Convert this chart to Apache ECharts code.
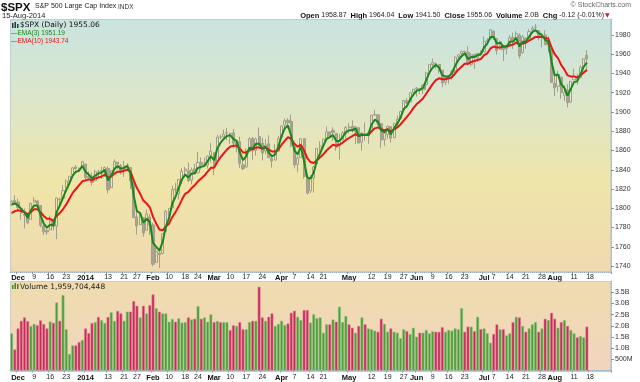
<!DOCTYPE html>
<html><head><meta charset="utf-8">
<script src="https://cdn.jsdelivr.net/npm/echarts@6/dist/echarts.min.js"></script>
<style>html,body{margin:0;padding:0;background:#fff}#c{width:640px;height:382px}</style>
</head><body><div id="c"></div>
<script>
// ---- categories (trading days, plus empty future slots) ----
const dates=["2013-11-27","2013-11-29",
"2013-12-02","2013-12-03","2013-12-04","2013-12-05","2013-12-06","2013-12-09","2013-12-10","2013-12-11","2013-12-12","2013-12-13","2013-12-16","2013-12-17","2013-12-18","2013-12-19","2013-12-20","2013-12-23","2013-12-24","2013-12-26","2013-12-27","2013-12-30","2013-12-31",
"2014-01-02","2014-01-03","2014-01-06","2014-01-07","2014-01-08","2014-01-09","2014-01-10","2014-01-13","2014-01-14","2014-01-15","2014-01-16","2014-01-17","2014-01-21","2014-01-22","2014-01-23","2014-01-24","2014-01-27","2014-01-28","2014-01-29","2014-01-30","2014-01-31",
"2014-02-03","2014-02-04","2014-02-05","2014-02-06","2014-02-07","2014-02-10","2014-02-11","2014-02-12","2014-02-13","2014-02-14","2014-02-18","2014-02-19","2014-02-20","2014-02-21","2014-02-24","2014-02-25","2014-02-26","2014-02-27","2014-02-28",
"2014-03-03","2014-03-04","2014-03-05","2014-03-06","2014-03-07","2014-03-10","2014-03-11","2014-03-12","2014-03-13","2014-03-14","2014-03-17","2014-03-18","2014-03-19","2014-03-20","2014-03-21","2014-03-24","2014-03-25","2014-03-26","2014-03-27","2014-03-28","2014-03-31",
"2014-04-01","2014-04-02","2014-04-03","2014-04-04","2014-04-07","2014-04-08","2014-04-09","2014-04-10","2014-04-11","2014-04-14","2014-04-15","2014-04-16","2014-04-17","2014-04-21","2014-04-22","2014-04-23","2014-04-24","2014-04-25","2014-04-28","2014-04-29","2014-04-30",
"2014-05-01","2014-05-02","2014-05-05","2014-05-06","2014-05-07","2014-05-08","2014-05-09","2014-05-12","2014-05-13","2014-05-14","2014-05-15","2014-05-16","2014-05-19","2014-05-20","2014-05-21","2014-05-22","2014-05-23","2014-05-27","2014-05-28","2014-05-29","2014-05-30",
"2014-06-02","2014-06-03","2014-06-04","2014-06-05","2014-06-06","2014-06-09","2014-06-10","2014-06-11","2014-06-12","2014-06-13","2014-06-16","2014-06-17","2014-06-18","2014-06-19","2014-06-20","2014-06-23","2014-06-24","2014-06-25","2014-06-26","2014-06-27","2014-06-30",
"2014-07-01","2014-07-02","2014-07-03","2014-07-07","2014-07-08","2014-07-09","2014-07-10","2014-07-11","2014-07-14","2014-07-15","2014-07-16","2014-07-17","2014-07-18","2014-07-21","2014-07-22","2014-07-23","2014-07-24","2014-07-25","2014-07-28","2014-07-29","2014-07-30","2014-07-31",
"2014-08-01","2014-08-04","2014-08-05","2014-08-06","2014-08-07","2014-08-08","2014-08-11","2014-08-12","2014-08-13","2014-08-14","2014-08-15",
"2014-08-18","2014-08-19","2014-08-20","2014-08-21","2014-08-22","2014-08-25","2014-08-26"];

// ---- OHLC ----
const opens=[1803.5,1808.0,
1806.5,1800.1,1793.6,1792.8,1788.4,1806.2,1807.6,1802.8,1781.7,1777.0,1777.5,1786.5,1781.5,1809.0,1810.4,1820.9,1828.0,1834.9,1842.9,1841.5,1842.6,
1845.9,1833.2,1832.3,1828.7,1837.9,1839.0,1840.1,1841.3,1821.4,1840.5,1848.0,1844.2,1841.1,1844.7,1842.3,1827.0,1791.0,1783.0,1790.2,1777.2,1790.9,
1782.7,1743.8,1753.4,1753.0,1776.0,1796.2,1800.5,1820.1,1814.8,1828.5,1839.0,1838.9,1829.2,1841.1,1836.8,1847.7,1845.8,1844.9,1855.1,
1857.7,1849.2,1874.1,1874.2,1878.5,1877.9,1878.3,1866.2,1869.1,1845.1,1842.8,1858.9,1872.3,1860.1,1874.5,1867.7,1859.5,1867.1,1852.1,1850.1,1859.2,
1874.0,1886.6,1891.4,1890.3,1863.9,1845.5,1852.6,1872.3,1830.7,1818.2,1831.5,1846.0,1861.7,1865.8,1872.6,1879.3,1881.0,1877.7,1865.0,1870.8,1877.1,
1884.4,1885.3,1879.5,1883.7,1868.5,1877.4,1875.3,1880.0,1896.8,1897.1,1888.2,1871.2,1876.7,1884.9,1873.3,1888.2,1893.3,1902.0,1911.8,1910.6,1920.3,
1923.9,1923.1,1923.1,1928.5,1942.4,1949.0,1950.3,1949.4,1943.4,1930.8,1934.8,1937.2,1942.7,1957.5,1960.5,1962.9,1962.0,1949.3,1959.9,1956.6,1960.8,
1962.3,1973.1,1975.9,1984.2,1976.4,1965.1,1966.7,1965.8,1969.9,1977.4,1976.4,1979.8,1961.5,1976.9,1975.7,1985.3,1988.1,1984.6,1978.3,1980.0,1973.2,1965.1,
1929.8,1926.6,1936.3,1917.3,1923.0,1910.4,1933.4,1935.7,1935.6,1947.4,1958.87];
const highs=[1808.4,1813.6,
1810.0,1800.1,1799.8,1792.8,1806.0,1811.5,1808.5,1803.0,1782.9,1780.1,1792.2,1786.8,1811.1,1810.9,1823.8,1829.8,1833.3,1842.8,1844.9,1842.5,1849.4,
1845.9,1838.2,1837.2,1840.1,1840.0,1843.2,1843.4,1843.5,1839.3,1850.8,1848.0,1846.0,1849.3,1846.9,1842.3,1827.0,1796.0,1793.9,1790.2,1798.8,1793.9,
1784.8,1758.7,1755.8,1774.1,1798.0,1799.9,1823.5,1826.5,1830.3,1841.7,1842.9,1847.5,1842.4,1846.1,1858.7,1852.9,1852.7,1854.5,1867.9,
1857.7,1876.2,1876.5,1881.9,1883.6,1877.9,1882.4,1868.4,1874.4,1852.4,1862.3,1873.8,1874.1,1873.5,1884.0,1873.3,1871.9,1875.9,1855.6,1866.6,1875.2,
1885.8,1893.2,1893.8,1897.3,1864.0,1854.9,1872.4,1872.5,1835.1,1834.2,1844.0,1862.3,1869.6,1871.9,1884.9,1879.8,1884.1,1877.7,1877.0,1880.0,1885.2,
1888.6,1891.3,1885.5,1883.7,1878.8,1889.1,1878.8,1897.1,1902.2,1897.1,1888.2,1878.3,1886.0,1884.9,1888.8,1896.3,1901.3,1912.3,1914.5,1920.0,1924.0,
1925.9,1925.1,1928.6,1941.7,1949.4,1955.6,1950.9,1949.4,1943.4,1937.3,1938.4,1943.7,1957.7,1959.9,1963.9,1963.7,1968.2,1960.8,1959.9,1961.0,1964.2,
1978.6,1976.7,1985.6,1984.2,1976.4,1974.2,1969.8,1968.7,1979.8,1982.5,1983.9,1981.8,1979.9,1976.9,1986.2,1989.2,1991.4,1984.6,1981.5,1984.9,1978.9,1965.1,
1937.4,1942.9,1936.3,1927.9,1928.9,1932.4,1944.9,1939.7,1948.4,1955.2,1964.04];
const lows=[1802.8,1803.9,
1798.6,1787.9,1779.1,1783.4,1788.4,1806.2,1801.4,1780.1,1772.3,1772.4,1777.5,1777.2,1768.0,1801.7,1810.4,1820.9,1828.0,1834.9,1839.8,1838.8,1842.4,
1827.7,1829.1,1823.7,1828.7,1831.4,1830.4,1832.4,1815.5,1821.4,1840.5,1840.3,1835.2,1832.4,1840.9,1820.1,1790.3,1772.9,1783.0,1770.5,1777.2,1772.3,
1739.7,1743.8,1737.9,1753.0,1776.0,1791.8,1800.5,1816.0,1809.2,1825.3,1835.0,1827.0,1824.9,1835.6,1836.8,1840.2,1843.0,1841.1,1847.5,
1834.4,1849.2,1871.9,1874.2,1870.6,1867.0,1863.9,1858.0,1841.9,1839.6,1842.8,1858.9,1850.4,1854.6,1863.5,1849.7,1856.0,1852.6,1842.1,1850.1,1859.2,
1874.0,1883.8,1882.7,1863.3,1841.5,1837.5,1852.4,1830.9,1814.4,1815.8,1816.3,1846.0,1856.7,1863.2,1872.6,1873.9,1870.2,1859.7,1850.6,1870.8,1872.7,
1878.0,1878.5,1866.8,1867.7,1859.8,1870.1,1867.0,1880.0,1896.1,1885.8,1862.4,1864.8,1872.4,1868.1,1873.3,1885.4,1893.3,1902.0,1908.3,1909.8,1916.6,
1916.0,1918.8,1918.6,1922.9,1942.4,1947.2,1944.6,1940.1,1925.8,1927.7,1929.4,1933.6,1937.9,1952.3,1959.2,1958.9,1948.3,1947.5,1944.7,1952.2,1958.2,
1962.3,1972.6,1975.9,1974.9,1959.5,1965.1,1952.9,1959.6,1969.9,1965.3,1975.7,1955.6,1960.8,1965.8,1975.7,1982.4,1985.8,1974.4,1967.3,1970.0,1962.4,1930.0,
1916.4,1921.2,1913.8,1911.5,1904.8,1909.0,1933.4,1928.3,1935.6,1947.4,1941.50];
const closes=[1807.23,1805.81,
1800.90,1795.15,1792.81,1785.03,1805.09,1808.37,1802.62,1782.22,1775.50,1775.32,1786.54,1781.00,1810.65,1809.60,1818.32,1827.99,1833.32,1842.02,1841.40,1841.07,1848.36,
1831.98,1831.37,1826.77,1837.88,1837.49,1838.13,1842.37,1819.20,1838.88,1848.38,1845.89,1838.70,1843.80,1844.86,1828.46,1790.29,1781.56,1792.50,1774.20,1794.19,1782.59,
1741.89,1755.20,1751.64,1773.43,1797.02,1799.84,1819.75,1819.26,1829.83,1838.63,1840.76,1828.75,1839.78,1836.25,1847.61,1845.12,1845.16,1854.29,1859.45,
1845.73,1873.91,1873.81,1877.03,1878.04,1877.17,1867.63,1868.20,1846.34,1841.13,1858.83,1872.25,1860.77,1872.01,1866.52,1857.44,1865.62,1852.56,1849.04,1857.62,1872.34,
1885.52,1890.90,1888.77,1865.09,1845.04,1851.96,1872.18,1833.08,1815.69,1830.61,1842.98,1862.31,1864.85,1871.89,1879.55,1875.39,1878.61,1863.40,1869.43,1878.33,1883.95,
1883.68,1881.14,1884.66,1867.72,1878.21,1875.63,1878.48,1896.65,1897.45,1888.53,1870.85,1877.86,1885.08,1872.83,1888.03,1892.49,1900.53,1911.91,1909.78,1920.03,1923.57,
1924.97,1924.24,1927.88,1940.46,1949.44,1951.27,1950.79,1943.89,1930.11,1936.16,1937.78,1941.99,1956.98,1959.48,1962.87,1962.61,1949.98,1959.53,1957.22,1960.96,1960.23,
1973.32,1974.62,1985.44,1977.65,1963.71,1972.83,1964.68,1967.57,1977.10,1973.28,1981.57,1958.12,1978.22,1973.63,1983.53,1987.01,1987.98,1978.34,1978.91,1969.95,1970.07,1930.67,
1925.15,1938.99,1920.21,1920.24,1909.57,1931.59,1936.92,1933.75,1946.72,1955.18,1955.06];
const priorClose=1802.75;

// ---- moving averages as drawn ----
const ema3=[1804,1805,1803,1799,1796,1790,1798,1803,1803,1793,1784,1780,1783,1782,1796,1803,1811,1819,
1826,1834,1838,1839,1844,1838,1835,1831,1834,1836,1837,1840,1829,1834,1841,1844,1841,1842,
1844,1836,1813,1797,1795,1785,1789,1786,1764,1760,1756,1765,1781,1790,1805,1812,1821,1830,
1835,1832,1836,1836,1842,1843,1844,1849,1854,1850,1862,1868,1872,1875,1876,1872,1870,1858,
1850,1854,1863,1862,1867,1867,1862,1864,1858,1854,1856,1864,1875,1883,1886,1875,1860,1856,
1864,1849,1832,1831,1837,1850,1857,1865,1872,1874,1876,1870,1870,1874,1879,1881,1881,1883,
1875,1877,1876,1877,1887,1892,1890,1881,1879,1882,1877,1883,1888,1894,1903,1906,1913,1918,
1922,1923,1925,1933,1941,1946,1949,1946,1938,1937,1937,1940,1948,1954,1958,1961,1955,1957,
1957,1959,1960,1967,1971,1978,1978,1971,1972,1968,1968,1973,1973,1977,1968,1973,1973,1978,
1983,1985,1982,1980,1975,1973,1952,1938,1939,1929,1925,1917,1924,1931,1932,1939,1947,1951.19];
const ema10=[1795,1797,1798,1797,1796,1794,1796,1799,1799,1796,1792,1789,1789,1787,1792,1795,1799,1804,
1810,1816,1820,1824,1828,1829,1830,1829,1831,1832,1833,1835,1832,1833,1836,1838,1838,1839,
1840,1838,1829,1821,1815,1808,1805,1801,1791,1784,1778,1777,1781,1784,1791,1796,1802,1809,
1815,1817,1821,1824,1828,1831,1834,1838,1842,1842,1848,1853,1857,1861,1864,1865,1865,1862,
1858,1858,1861,1861,1863,1863,1862,1863,1861,1859,1859,1861,1866,1870,1874,1872,1867,1864,
1866,1860,1852,1848,1847,1850,1853,1856,1860,1863,1866,1865,1866,1868,1871,1873,1875,1877,
1875,1876,1876,1876,1880,1883,1884,1882,1881,1882,1880,1882,1884,1887,1891,1895,1899,1904,
1908,1911,1914,1919,1924,1929,1933,1935,1934,1934,1935,1936,1940,1944,1947,1950,1950,1952,
1953,1954,1955,1959,1961,1966,1968,1967,1967,1968,1968,1969,1970,1972,1970,1971,1972,1974,
1976,1978,1978,1978,1977,1976,1967,1960,1956,1949,1944,1938,1937,1937,1936,1938,1941,1943.74];

// ---- volume (billions of shares) ----
const volumes=[1.66,0.94,1.88,2.22,2.37,2.21,1.99,2.08,2.02,2.24,2.08,1.88,2.19,2.13,3.04,2.22,3.37,1.84,
0.74,1.12,1.12,1.27,1.36,1.88,1.67,2.12,2.16,2.39,2.25,2.12,2.39,2.60,2.22,2.66,2.55,2.22,
2.63,2.63,3.10,2.89,2.37,2.89,2.55,2.92,3.40,2.78,2.63,2.55,2.55,2.18,2.30,2.18,2.33,2.14,
2.16,2.37,2.28,2.31,2.88,2.31,2.37,2.18,2.51,2.16,2.21,2.16,2.16,2.16,1.81,2.02,1.99,2.16,
1.84,1.84,2.16,2.22,2.22,3.74,2.37,2.22,2.40,2.55,1.99,2.08,2.22,2.03,2.10,2.58,2.67,2.40,
2.25,2.70,2.70,2.14,2.51,2.33,2.37,1.69,2.06,2.06,2.28,2.18,2.85,2.16,2.43,2.06,1.91,1.69,
1.99,2.37,2.06,1.88,1.84,1.78,1.73,2.31,2.08,1.73,1.88,1.73,1.69,1.44,1.84,1.76,1.63,1.91,
1.51,1.69,1.69,1.81,1.66,1.75,1.73,1.73,1.93,1.73,1.81,1.78,1.88,1.84,2.78,1.73,1.96,1.96,
1.76,2.40,1.85,1.88,1.66,1.24,1.63,2.06,1.84,1.84,1.57,1.66,2.16,2.40,2.37,1.99,1.73,1.88,
2.06,2.16,1.73,1.88,2.31,2.25,2.58,2.31,1.91,2.16,2.25,1.99,1.81,1.66,1.48,1.54,1.48,1.96];

// ---- tick labels ----
const tickDates=["2013-12-02","2013-12-09","2013-12-16","2013-12-23","2014-01-02","2014-01-13","2014-01-21","2014-01-27",
"2014-02-03","2014-02-10","2014-02-18","2014-02-24","2014-03-03","2014-03-10","2014-03-17","2014-03-24",
"2014-04-01","2014-04-07","2014-04-14","2014-04-21","2014-05-01","2014-05-12","2014-05-19","2014-05-27",
"2014-06-02","2014-06-09","2014-06-16","2014-06-23","2014-07-01","2014-07-07","2014-07-14","2014-07-21","2014-07-28",
"2014-08-01","2014-08-11","2014-08-18"];
const tickLabels=["Dec","9","16","23","2014","13","21","27",
"Feb","10","18","24","Mar","10","17","24",
"Apr","7","14","21","May","12","19","27",
"Jun","9","16","23","Jul","7","14","21","28",
"Aug","11","18"];
const priceTicks=[1740,1760,1780,1800,1820,1840,1860,1880,1900,1920,1940,1960,1980];
const volTicks=[0.5,1.0,1.5,2.0,2.5,3.0,3.5];

// ---- layout / style ----
const L=10, R=29;
const G0={top:19,h:253}, G1={top:281,h:91};
const W=640-L-R;
const GREEN='#4f9a3a', RED='#c52a55';
const FONT='Liberation Sans';

const chart=echarts.init(document.getElementById('c'),null,{renderer:'canvas'});

const isTick=(i,v)=>tickDates.indexOf(v)>=0;
function fmtDate(v){const k=tickDates.indexOf(v);if(k<0)return '';const t=tickLabels[k];return (/^[A-Za-z]/.test(t)||t.length===4)?'{b|'+t+'}':t;}
function xAxis(gi){return {type:'category',gridIndex:gi,data:dates,boundaryGap:true,
  axisLine:{show:true,lineStyle:{color:'#9fb4c2',type:'dotted',width:1}},
  axisTick:{show:true,interval:isTick,length:2,lineStyle:{color:'#7f95a5'}},
  axisLabel:{show:true,interval:isTick,formatter:fmtDate,fontSize:7,margin:2,color:'#222',fontFamily:FONT,
    rich:{b:{fontSize:7.5,fontWeight:'bold',color:'#111',fontFamily:FONT}}},
  splitLine:{show:false}};}

const candleData=closes.map((c,i)=>[opens[i],c,lows[i],highs[i]]);
const volData=volumes.map((v,i)=>{const up=closes[i]>=(i?closes[i-1]:priorClose);
  return {value:v,itemStyle:{color:up?GREEN:RED,borderColor:up?'#8cc47a':'#e07a98',borderWidth:0.6}};});

const mainBg=new echarts.graphic.LinearGradient(0,0,0,1,[
  {offset:0,color:'#c9e4df'},{offset:0.3,color:'#dbe6cc'},{offset:0.65,color:'#efe5a9'},{offset:1,color:'#efdab0'}]);
const volBg=new echarts.graphic.LinearGradient(0,0,0,1,[
  {offset:0,color:'#efdcae'},{offset:1,color:'#f1d5bf'}]);

chart.setOption({
  animation:false,
  backgroundColor:'#ffffff',
  grid:[
    {left:L,right:R,top:G0.top,height:G0.h,show:true,backgroundColor:mainBg,borderWidth:0},
    {left:L,right:R,top:G1.top,height:G1.h,show:true,backgroundColor:volBg,borderWidth:0}
  ],
  xAxis:[xAxis(0),xAxis(1)],
  yAxis:[
    {type:'value',gridIndex:0,position:'right',min:1733.8,max:1996.6,scale:true,
     axisLine:{show:true,lineStyle:{color:'#9fb4c2',type:'dotted'}},
     axisTick:{show:true,customValues:priceTicks,length:3,lineStyle:{color:'#7f95a5'}},
     axisLabel:{show:true,customValues:priceTicks,fontSize:7,margin:4,color:'#333',fontFamily:FONT,
       formatter:v=>String(v)},
     splitLine:{show:false}},
    {type:'value',gridIndex:1,position:'right',min:-0.067,max:4.0,
     axisLine:{show:true,lineStyle:{color:'#9fb4c2',type:'dotted'}},
     axisTick:{show:true,customValues:volTicks,length:3,lineStyle:{color:'#7f95a5'}},
     axisLabel:{show:true,customValues:volTicks,fontSize:7,margin:4,color:'#333',fontFamily:FONT,
       formatter:v=>v===0.5?'500M':v.toFixed(1)+'B'},
     splitLine:{show:false}}
  ],
  series:[
    {type:'candlestick',xAxisIndex:0,yAxisIndex:0,data:candleData,barWidth:2.6,z:2,
     itemStyle:{color:'rgba(235,232,215,0.35)',color0:'#aaa493',borderColor:'#a29e8c',borderColor0:'#a29e8c',borderWidth:1}},
    {type:'line',xAxisIndex:0,yAxisIndex:0,data:ema10,symbol:'none',z:3,lineStyle:{color:'#ea1515',width:2}},
    {type:'line',xAxisIndex:0,yAxisIndex:0,data:ema3,symbol:'none',z:4,lineStyle:{color:'#1b861b',width:2}},
    {type:'bar',xAxisIndex:1,yAxisIndex:1,data:volData,barCategoryGap:'12%',z:2}
  ],
  graphic:[
    {type:'rect',shape:{x:L+0.5,y:G0.top+0.5,width:W-1,height:G0.h-1},style:{fill:null,stroke:'#a9bfcc',lineWidth:1,lineDash:[1,1]},z:10,silent:true},
    {type:'rect',shape:{x:L+0.5,y:G1.top+0.5,width:W-1,height:G1.h-1},style:{fill:null,stroke:'#a9bfcc',lineWidth:1,lineDash:[1,1]},z:10,silent:true},
    {type:'text',left:1,top:1.5,style:{text:'$SPX',font:'bold 11.5px "Liberation Sans"',fill:'#111'}},
    {type:'text',left:35,top:3,style:{text:'S&P 500 Large Cap Index',font:'7px "Liberation Sans"',fill:'#222'}},
    {type:'text',left:118,top:3.5,style:{text:'INDX',font:'6.5px "Liberation Sans"',fill:'#333'}},
    {type:'text',left:2,top:11.5,style:{text:'15-Aug-2014',font:'7.5px "Liberation Sans"',fill:'#222'}},
    {type:'text',right:9,top:2,style:{text:'© StockCharts.com',font:'7px "Liberation Sans"',fill:'#666'}},
    {type:'text',right:36,top:11.5,style:{
      text:'{b|Open} 1958.87  {b|High} 1964.04  {b|Low} 1941.50  {b|Close} 1955.06  {b|Volume} 2.0B  {b|Chg} -0.12 (-0.01%)',
      font:'7px "Liberation Sans"',fill:'#222',
      rich:{b:{font:'bold 7.5px "Liberation Sans"',fill:'#111'}}}},
    {type:'text',left:605,top:12.5,style:{text:'▼',font:'6px "DejaVu Sans"',fill:'#c0204a'}},
    // legend inside price panel
    {type:'rect',shape:{x:12,y:23,width:1.5,height:5},style:{fill:'#333'}},
    {type:'rect',shape:{x:14.5,y:22,width:1.5,height:6},style:{fill:'#333'}},
    {type:'rect',shape:{x:17,y:24,width:1.5,height:4},style:{fill:'#333'}},
    {type:'text',left:20,top:21,style:{text:'$SPX (Daily) 1955.06',font:'7.5px "DejaVu Sans"',fill:'#111'}},
    {type:'text',left:11,top:30,style:{text:'—EMA(3) 1951.19',font:'6.5px "Liberation Sans"',fill:'#1b861b'}},
    {type:'text',left:11,top:37.5,style:{text:'—EMA(10) 1943.74',font:'6.5px "Liberation Sans"',fill:'#e31515'}},
    // legend inside volume panel
    {type:'rect',shape:{x:12,y:285,width:1.5,height:4},style:{fill:'#3c8a2c'}},
    {type:'rect',shape:{x:14.5,y:283,width:1.5,height:6},style:{fill:'#3c8a2c'}},
    {type:'rect',shape:{x:17,y:284,width:1.5,height:5},style:{fill:'#3c8a2c'}},
    {type:'text',left:20,top:283,style:{text:'Volume 1,959,704,448',font:'7.5px "DejaVu Sans"',fill:'#222'}}
  ]
});
</script></body></html>
